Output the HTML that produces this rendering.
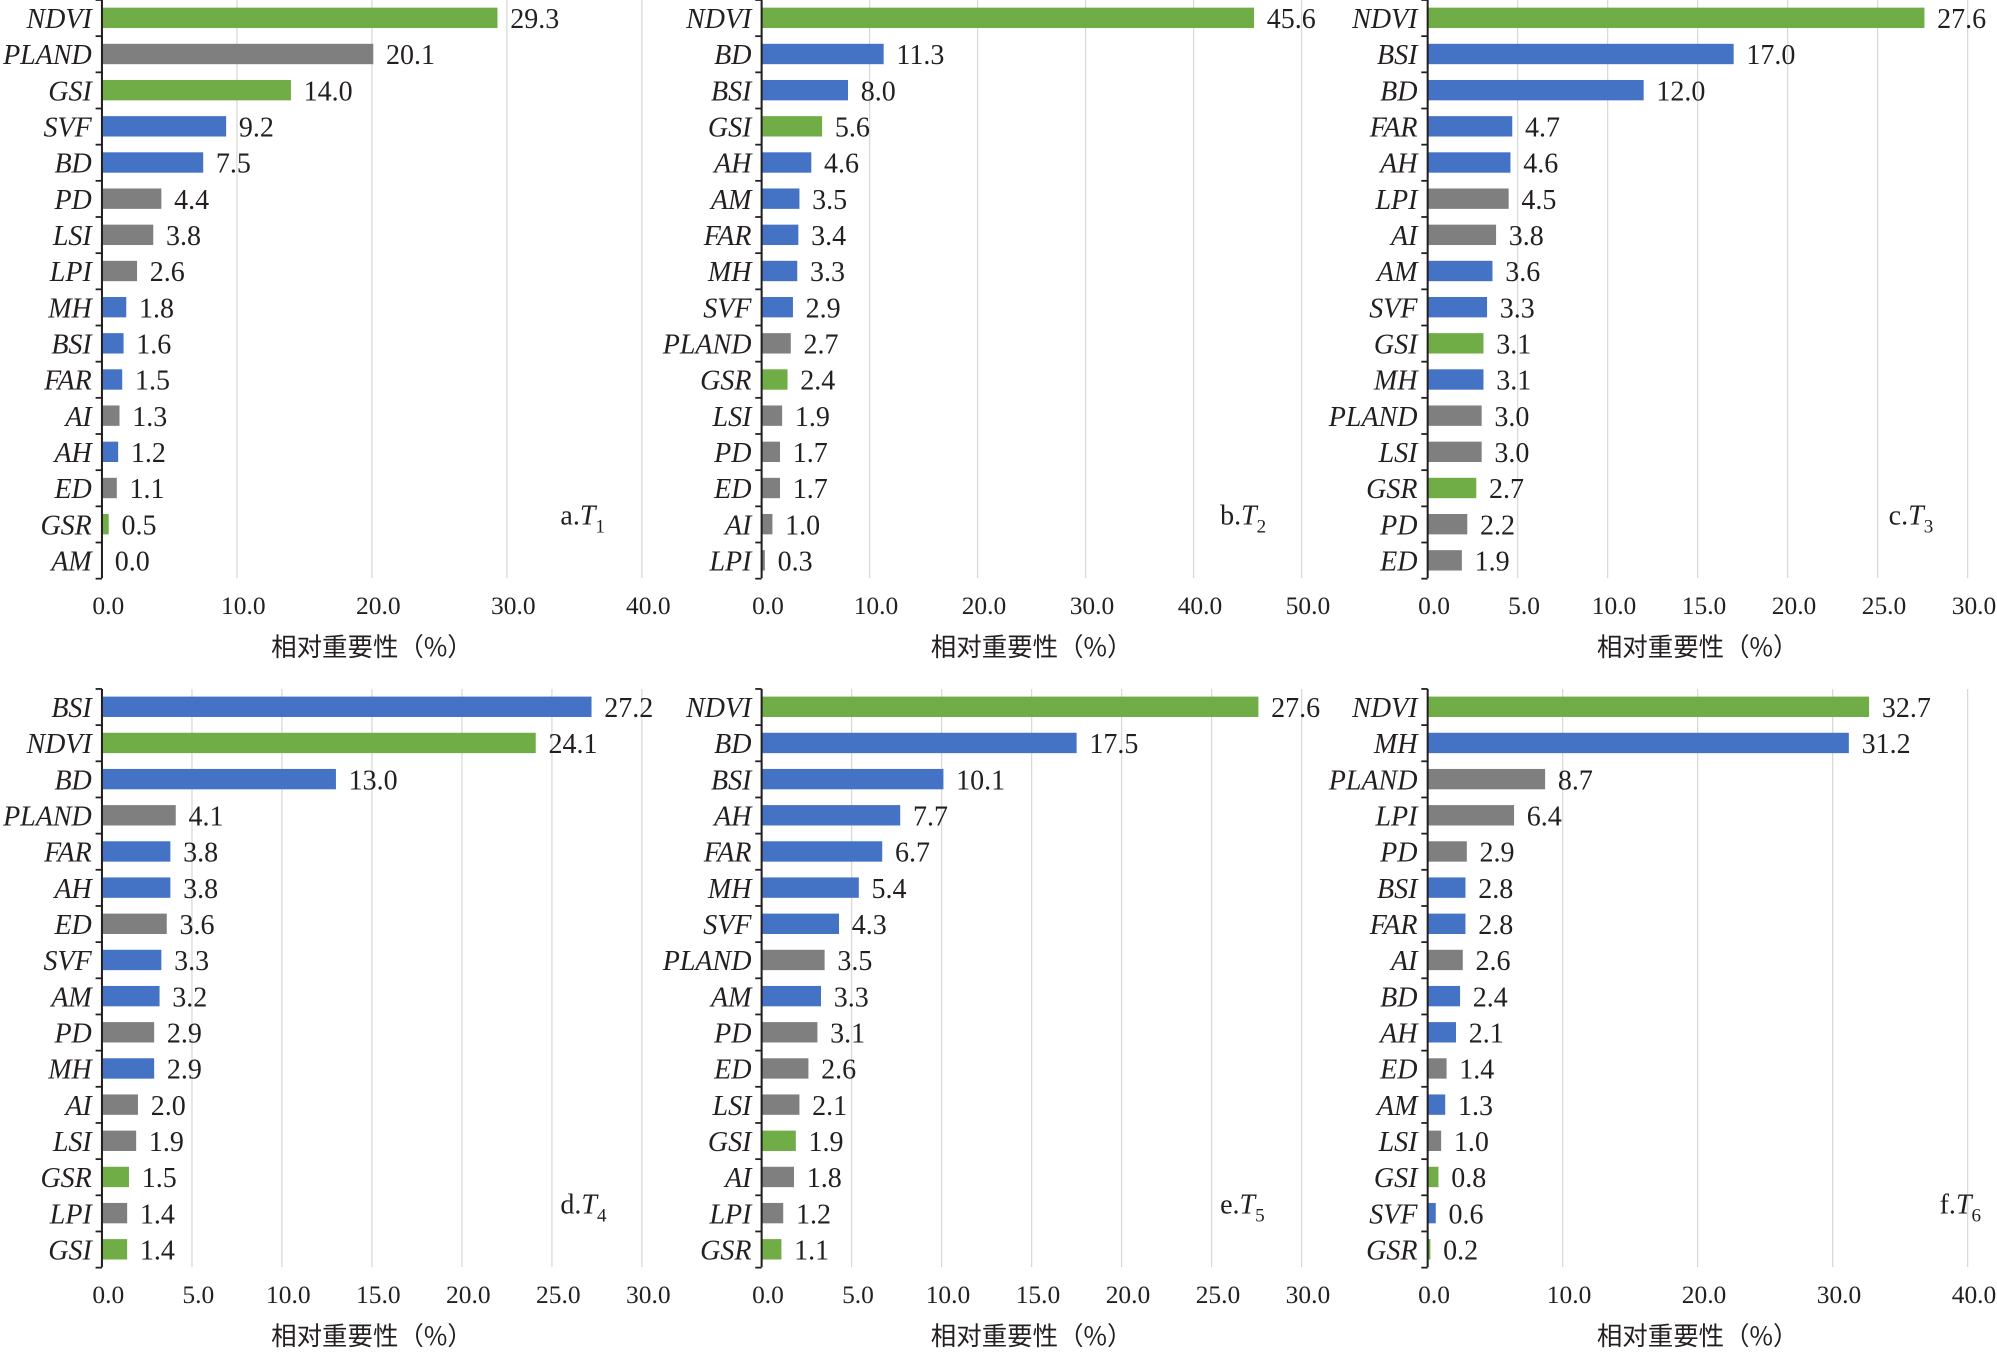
<!DOCTYPE html>
<html><head><meta charset="utf-8"><style>
html,body{margin:0;padding:0;background:#fff;}
svg{display:block;}
text{font-family:"Liberation Serif","Noto Serif CJK SC",serif;fill:#231f20;}
</style></head><body>
<svg id="s" width="1997" height="1355" viewBox="0 0 1568 1064" xmlns="http://www.w3.org/2000/svg"></svg>
<script>
const G='#70ad47',B='#4472c4',R='#7f7f7f';
const panels=[
{x0:80,y0:14,max:40,step:10,lab:'a',sub:'1',d:[['NDVI',29.3,G],['PLAND',20.1,R],['GSI',14.0,G],['SVF',9.2,B],['BD',7.5,B],['PD',4.4,R],['LSI',3.8,R],['LPI',2.6,R],['MH',1.8,B],['BSI',1.6,B],['FAR',1.5,B],['AI',1.3,R],['AH',1.2,B],['ED',1.1,R],['GSR',0.5,G],['AM',0.0,R]]},
{x0:598,y0:14,max:50,step:10,lab:'b',sub:'2',d:[['NDVI',45.6,G],['BD',11.3,B],['BSI',8.0,B],['GSI',5.6,G],['AH',4.6,B],['AM',3.5,B],['FAR',3.4,B],['MH',3.3,B],['SVF',2.9,B],['PLAND',2.7,R],['GSR',2.4,G],['LSI',1.9,R],['PD',1.7,R],['ED',1.7,R],['AI',1.0,R],['LPI',0.3,R]]},
{x0:1121,y0:14,max:30,step:5,lab:'c',sub:'3',d:[['NDVI',27.6,G],['BSI',17.0,B],['BD',12.0,B],['FAR',4.7,B],['AH',4.6,B],['LPI',4.5,R],['AI',3.8,R],['AM',3.6,B],['SVF',3.3,B],['GSI',3.1,G],['MH',3.1,B],['PLAND',3.0,R],['LSI',3.0,R],['GSR',2.7,G],['PD',2.2,R],['ED',1.9,R]]},
{x0:80,y0:555,max:30,step:5,lab:'d',sub:'4',d:[['BSI',27.2,B],['NDVI',24.1,G],['BD',13.0,B],['PLAND',4.1,R],['FAR',3.8,B],['AH',3.8,B],['ED',3.6,R],['SVF',3.3,B],['AM',3.2,B],['PD',2.9,R],['MH',2.9,B],['AI',2.0,R],['LSI',1.9,R],['GSR',1.5,G],['LPI',1.4,R],['GSI',1.4,G]]},
{x0:598,y0:555,max:30,step:5,lab:'e',sub:'5',d:[['NDVI',27.6,G],['BD',17.5,B],['BSI',10.1,B],['AH',7.7,B],['FAR',6.7,B],['MH',5.4,B],['SVF',4.3,B],['PLAND',3.5,R],['AM',3.3,B],['PD',3.1,R],['ED',2.6,R],['LSI',2.1,R],['GSI',1.9,G],['AI',1.8,R],['LPI',1.2,R],['GSR',1.1,G]]},
{x0:1121,y0:555,max:40,step:10,lab:'f',sub:'6',d:[['NDVI',32.7,G],['MH',31.2,B],['PLAND',8.7,R],['LPI',6.4,R],['PD',2.9,R],['BSI',2.8,B],['FAR',2.8,B],['AI',2.6,R],['BD',2.4,B],['AH',2.1,B],['ED',1.4,R],['AM',1.3,B],['LSI',1.0,R],['GSI',0.8,G],['SVF',0.6,B],['GSR',0.2,G]]}
];
let h='';const sp=28.4;
for(const p of panels){
  const W=424/p.max; const x0=p.x0, top=p.y0-14, bot=p.y0+15*sp+14;
  for(let v=p.step;v<=p.max+1e-9;v+=p.step){const x=x0+v*W;h+=`<line x1="${x}" y1="${top}" x2="${x}" y2="${bot}" stroke="#d9d9d9" stroke-width="1"/>`;}
  for(let v=0;v<=p.max+1e-9;v+=p.step){const x=x0+v*W+5;h+=`<text x="${x}" y="${bot+28}" font-size="20" text-anchor="middle">${v.toFixed(1)}</text>`;}
  h+=`<text x="${x0+212}" y="${bot+61}" font-size="20" text-anchor="middle" style="font-family:'Noto Sans CJK SC',sans-serif">相对重要性（%）</text>`;
  p.d.forEach((r,i)=>{const y=p.y0+i*sp;const w=r[1]*W;
    h+=`<rect x="${x0}" y="${y-8}" width="${w}" height="16" fill="${r[2]}"/>`;
    h+=`<text x="${x0-8}" y="${y+8}" font-size="22" font-style="italic" text-anchor="end">${r[0]}</text>`;
    h+=`<text x="${x0+w+10}" y="${y+8}" font-size="22">${r[1].toFixed(1)}</text>`;});
  h+=`<line x1="${x0}" y1="${top}" x2="${x0}" y2="${bot}" stroke="#231f20" stroke-width="1.6"/>`;
  for(let i=0;i<=16;i++){const y=top+i*sp;h+=`<line x1="${x0-5}" y1="${y}" x2="${x0}" y2="${y}" stroke="#231f20" stroke-width="1.4"/>`;}
  const lx=x0+(p.lab==='f'?402:p.lab==='c'?362:360);
  h+=`<text x="${lx}" y="${p.y0+398}" font-size="22">${p.lab}.<tspan font-style="italic">T</tspan><tspan font-size="15" dy="6">${p.sub}</tspan></text>`;
}
document.getElementById('s').innerHTML=h;
</script>
</body></html>
